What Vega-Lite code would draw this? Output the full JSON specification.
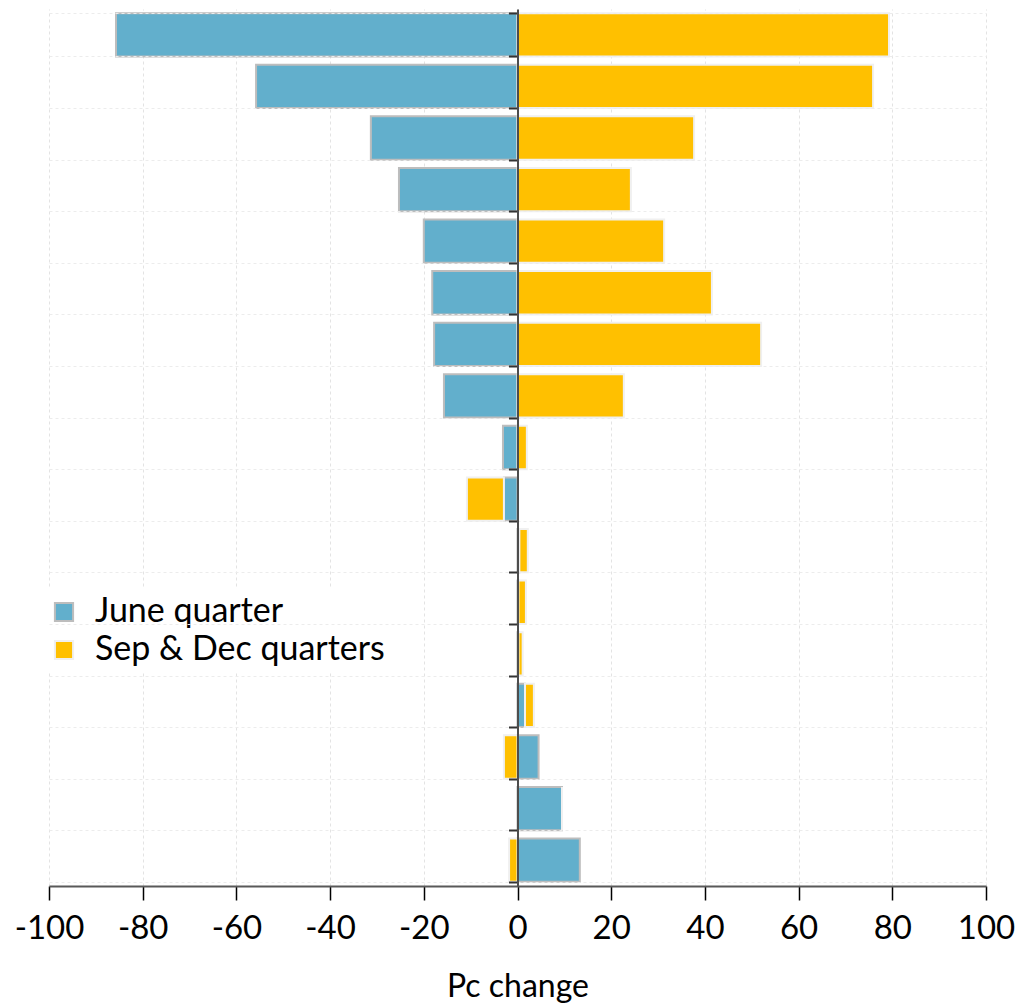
{
  "$schema": "https://vega.github.io/schema/vega-lite/v6.json",
  "width": 937,
  "height": 877,
  "autosize": {"type": "none"},
  "padding": {"left": 49, "top": 9, "right": 29, "bottom": 117},
  "background": "white",
  "config": {
    "font": "Lato",
    "view": {"stroke": null}
  },
  "data": {
    "values": [
      {"cat": "c01", "series": "June quarter", "ord": 1, "value": -85.7},
      {"cat": "c01", "series": "Sep & Dec quarters", "ord": 2, "value": 79.3},
      {"cat": "c02", "series": "June quarter", "ord": 1, "value": -55.8},
      {"cat": "c02", "series": "Sep & Dec quarters", "ord": 2, "value": 75.9},
      {"cat": "c03", "series": "June quarter", "ord": 1, "value": -31.3},
      {"cat": "c03", "series": "Sep & Dec quarters", "ord": 2, "value": 37.7},
      {"cat": "c04", "series": "June quarter", "ord": 1, "value": -25.3},
      {"cat": "c04", "series": "Sep & Dec quarters", "ord": 2, "value": 24.2},
      {"cat": "c05", "series": "June quarter", "ord": 1, "value": -20.0},
      {"cat": "c05", "series": "Sep & Dec quarters", "ord": 2, "value": 31.3},
      {"cat": "c06", "series": "June quarter", "ord": 1, "value": -18.2},
      {"cat": "c06", "series": "Sep & Dec quarters", "ord": 2, "value": 41.5},
      {"cat": "c07", "series": "June quarter", "ord": 1, "value": -17.8},
      {"cat": "c07", "series": "Sep & Dec quarters", "ord": 2, "value": 52.0},
      {"cat": "c08", "series": "June quarter", "ord": 1, "value": -15.7},
      {"cat": "c08", "series": "Sep & Dec quarters", "ord": 2, "value": 22.7},
      {"cat": "c09", "series": "June quarter", "ord": 1, "value": -3.1},
      {"cat": "c09", "series": "Sep & Dec quarters", "ord": 2, "value": 2.0},
      {"cat": "c10", "series": "June quarter", "ord": 1, "value": -2.9},
      {"cat": "c10", "series": "Sep & Dec quarters", "ord": 2, "value": -7.9},
      {"cat": "c11", "series": "June quarter", "ord": 1, "value": 0.4},
      {"cat": "c11", "series": "Sep & Dec quarters", "ord": 2, "value": 1.8},
      {"cat": "c12", "series": "June quarter", "ord": 1, "value": 0.2},
      {"cat": "c12", "series": "Sep & Dec quarters", "ord": 2, "value": 1.6},
      {"cat": "c13", "series": "June quarter", "ord": 1, "value": 0.2},
      {"cat": "c13", "series": "Sep & Dec quarters", "ord": 2, "value": 0.9},
      {"cat": "c14", "series": "June quarter", "ord": 1, "value": 1.6},
      {"cat": "c14", "series": "Sep & Dec quarters", "ord": 2, "value": 1.9},
      {"cat": "c15", "series": "June quarter", "ord": 1, "value": 4.5},
      {"cat": "c15", "series": "Sep & Dec quarters", "ord": 2, "value": -2.9},
      {"cat": "c16", "series": "June quarter", "ord": 1, "value": 9.5},
      {"cat": "c16", "series": "Sep & Dec quarters", "ord": 2, "value": 0.0},
      {"cat": "c17", "series": "June quarter", "ord": 1, "value": 13.3},
      {"cat": "c17", "series": "Sep & Dec quarters", "ord": 2, "value": -1.8}
    ]
  },
  "mark": {"type": "bar", "strokeWidth": 2},
  "encoding": {
    "y": {
      "field": "cat",
      "type": "nominal",
      "scale": {"paddingInner": 0.16, "paddingOuter": 0.08},
      "axis": {
        "title": null,
        "labels": false,
        "orient": "left",
        "offset": -468.5,
        "zindex": 1,
        "tickBand": "extent",
        "tickSize": 9,
        "tickColor": "#333333",
        "tickWidth": 2,
        "domainColor": "#4d4d4d",
        "domainWidth": 2,
        "grid": true,
        "gridColor": "#ececec",
        "gridDash": [3, 3],
        "gridWidth": 1
      }
    },
    "x": {
      "field": "value",
      "type": "quantitative",
      "stack": "zero",
      "scale": {"domain": [-100, 100], "nice": false},
      "axis": {
        "values": [-100, -80, -60, -40, -20, 0, 20, 40, 60, 80, 100],
        "labelExpr": "replace(datum.label, '−', '-')",
        "title": "Pc change",
        "titleFontSize": 32,
        "titleFontWeight": "normal",
        "titleColor": "#000000",
        "titlePadding": 26,
        "labelFontSize": 33,
        "labelColor": "#000000",
        "labelPadding": 12,
        "labelFlush": false,
        "tickSize": 14,
        "tickColor": "#000000",
        "tickWidth": 1.5,
        "domainColor": "#595959",
        "domainWidth": 2,
        "grid": true,
        "gridColor": "#e3e3e3",
        "gridDash": [3, 3],
        "gridWidth": 1
      }
    },
    "order": {"field": "ord", "type": "quantitative"},
    "color": {
      "field": "series",
      "type": "nominal",
      "scale": {"domain": ["June quarter", "Sep & Dec quarters"], "range": ["#62afcc", "#ffc000"]},
      "legend": {
        "title": null,
        "orient": "none",
        "legendX": -8,
        "legendY": 580,
        "fillColor": "white",
        "padding": 6,
        "labelFontSize": 34,
        "labelColor": "#000000",
        "symbolType": "square",
        "symbolSize": 330,
        "symbolStrokeWidth": 2,
        "labelOffset": 14,
        "rowPadding": 4,
        "labelLimit": 500
      }
    },
    "stroke": {
      "field": "series",
      "type": "nominal",
      "scale": {"domain": ["June quarter", "Sep & Dec quarters"], "range": ["#bdbdbd", "#f0f0f0"]},
      "legend": null
    }
  }
}
